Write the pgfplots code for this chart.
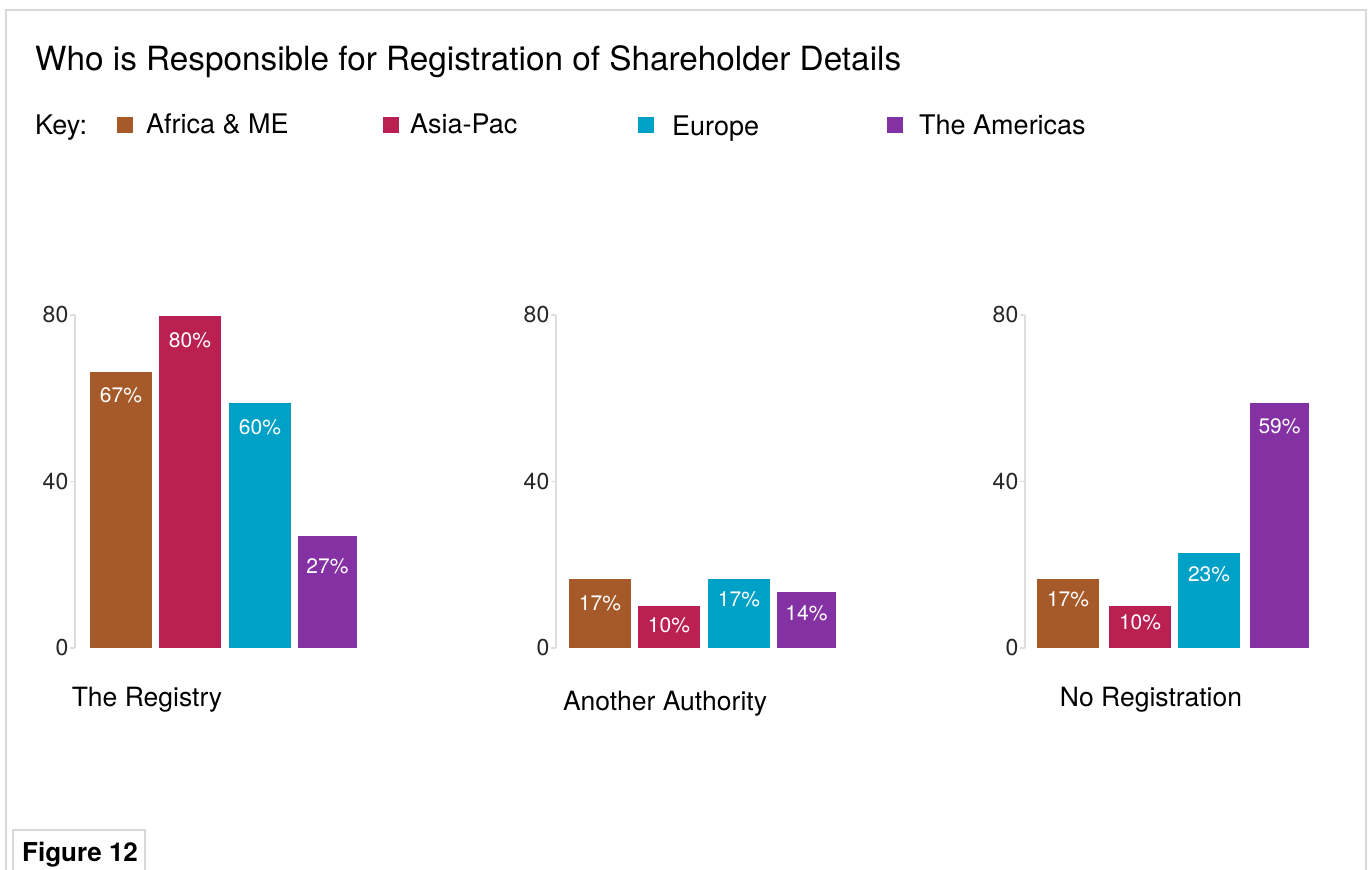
\documentclass[border=0pt]{standalone}
\usepackage{pgfplots}
\pgfplotsset{compat=1.18}
\usepackage{fontspec}
\setmainfont{TeX Gyre Heros}
\definecolor{cAf}{RGB}{166,90,42}
\definecolor{cAs}{RGB}{187,32,82}
\definecolor{cEu}{RGB}{0,161,198}
\definecolor{cAm}{RGB}{132,49,163}
\definecolor{framegray}{RGB}{216,216,216}
\definecolor{axgray}{RGB}{222,222,222}
\definecolor{tickgray}{RGB}{40,40,40}
\pgfplotsset{
  panel/.style={
    scale only axis, width=300bp, height=333bp, anchor=south west,
    xmin=0, xmax=300, ymin=0, ymax=80,
    axis x line=none, axis y line=left,
    y axis line style={-, draw=axgray, line width=2.2bp},
    ytick={0,40,80}, tick align=outside, major tick length=5bp,
    ytick style={draw=axgray, line width=1.6bp},
    /pgf/number format/assume math mode=true,
    yticklabel style={font=\fontsize{23bp}{26bp}\selectfont, text=tickgray, inner xsep=1.5bp},
    clip=false,
  },
  onebar/.style={
    ybar, bar shift=0pt, draw=none, point meta=explicit,
    nodes near coords={\pgfmathprintnumber{\pgfplotspointmeta}\%},
    every node near coord/.append style={anchor=center, text=white,
      font=\fontsize{21bp}{25bp}\selectfont, yshift=-#1},
  },
}
\begin{document}
\begin{tikzpicture}
\useasboundingbox (0,0) rectangle (1370bp,870bp);
% frame
\draw[framegray, line width=2.2bp] (6bp,0) -- (6bp,860bp) -- (1366bp,860bp) -- (1366bp,0);
% title
\node[anchor=base west, inner sep=0] at (35bp,799bp) {\fontsize{33.3bp}{38bp}\selectfont Who is Responsible for Registration of Shareholder Details};
% key
\node[anchor=base west, inner sep=0] at (35bp,735bp) {\fontsize{27bp}{32bp}\selectfont Key:};
\fill[cAf] (117bp,737bp) rectangle (133bp,753bp);
\node[anchor=base west, inner sep=0] at (146bp,736bp) {\fontsize{27bp}{32bp}\selectfont Africa \& ME};
\fill[cAs] (383bp,737bp) rectangle (399bp,753bp);
\node[anchor=base west, inner sep=0] at (410bp,736bp) {\fontsize{27bp}{32bp}\selectfont Asia-Pac};
\fill[cEu] (638bp,737bp) rectangle (654bp,753bp);
\node[anchor=base west, inner sep=0] at (672bp,734bp) {\fontsize{27bp}{32bp}\selectfont Europe};
\fill[cAm] (887bp,737bp) rectangle (903bp,753bp);
\node[anchor=base west, inner sep=0] at (919bp,735bp) {\fontsize{27bp}{32bp}\selectfont The Americas};

% panel 1
\begin{axis}[panel, at={(75bp,222bp)}]
\addplot[onebar=24bp, fill=cAf, bar width=62bp] coordinates {(46,66.4) [67]};
\addplot[onebar=24bp, fill=cAs, bar width=62bp] coordinates {(115,79.8) [80]};
\addplot[onebar=24bp, fill=cEu, bar width=62bp] coordinates {(185,58.8) [60]};
\addplot[onebar=30bp, fill=cAm, bar width=59bp] coordinates {(252.5,26.9) [27]};
\end{axis}
% panel 2
\begin{axis}[panel, at={(556bp,222bp)}]
\addplot[onebar=24bp, fill=cAf, bar width=62bp] coordinates {(44,16.6) [17]};
\addplot[onebar=19bp, fill=cAs, bar width=62bp] coordinates {(113,10.1) [10]};
\addplot[onebar=20bp, fill=cEu, bar width=62bp] coordinates {(183,16.6) [17]};
\addplot[onebar=21bp, fill=cAm, bar width=59bp] coordinates {(250.5,13.5) [14]};
\end{axis}
% panel 3
\begin{axis}[panel, at={(1025bp,222bp)}]
\addplot[onebar=20bp, fill=cAf, bar width=62bp] coordinates {(43,16.6) [17]};
\addplot[onebar=16bp, fill=cAs, bar width=62bp] coordinates {(115,10.1) [10]};
\addplot[onebar=21bp, fill=cEu, bar width=62bp] coordinates {(184,22.8) [23]};
\addplot[onebar=23bp, fill=cAm, bar width=59bp] coordinates {(254.5,58.8) [59]};
\end{axis}

% category labels
\node[inner sep=0] at (147bp,170bp) {\fontsize{26.5bp}{31bp}\selectfont The Registry};
\node[inner sep=0] at (665bp,166bp) {\fontsize{26.5bp}{31bp}\selectfont Another Authority};
\node[inner sep=0] at (1151bp,170bp) {\fontsize{26.5bp}{31bp}\selectfont No Registration};

% figure box
\draw[framegray, line width=2.2bp] (13bp,0) -- (13bp,40bp) -- (145bp,40bp) -- (145bp,0);
\node[anchor=base west, inner sep=0] at (22bp,9bp) {\fontsize{26bp}{30bp}\selectfont\bfseries Figure 12};
\end{tikzpicture}
\end{document}
